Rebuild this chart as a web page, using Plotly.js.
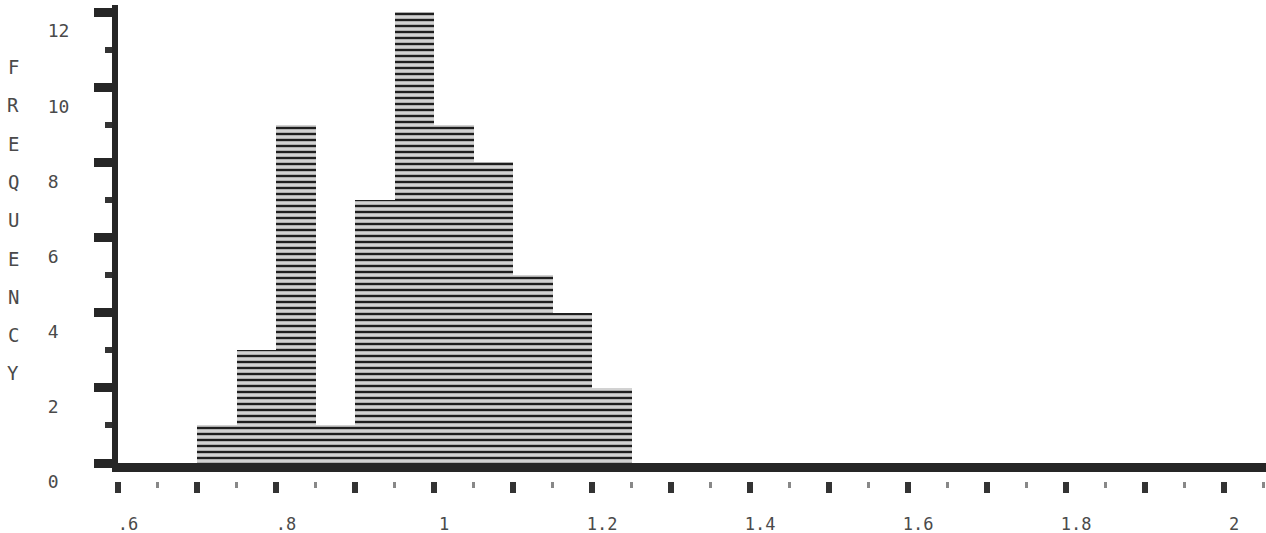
<!DOCTYPE html>
<html>
<head>
<meta charset="utf-8">
<script src="https://cdn.plot.ly/plotly-3.0.1.min.js"></script>
<style>html,body{margin:0;padding:0;background:#fff;}#chart{width:1266px;height:533px;}</style>
</head>
<body>
<div id="chart"></div>
<script>
// Histogram bins (bin centres, width 0.05) and counts
var binCenters = [0.725, 0.775, 0.825, 0.875, 0.925, 0.975, 1.025, 1.075, 1.125, 1.175, 1.225];
var counts     = [1, 3, 9, 1, 7, 12, 9, 8, 5, 4, 2];
var binWidth = 0.05;

// Axis ticks
var xTickVals = [0.6, 0.7, 0.8, 0.9, 1.0, 1.1, 1.2, 1.3, 1.4, 1.5, 1.6, 1.7, 1.8, 1.9, 2.0];
var xTickText = ['.6', '', '.8', '', '1', '', '1.2', '', '1.4', '', '1.6', '', '1.8', '', '2'];
var yTickVals = [0, 2, 4, 6, 8, 10, 12];
var yTickText = ['0\u00a0', '2\u00a0', '4\u00a0', '6\u00a0', '8\u00a0', '10', '12'];
var yTitleLetters = ['F', 'R', 'E', 'Q', 'U', 'E', 'N', 'C', 'Y'];

var mono = 'DejaVu Sans Mono, Liberation Mono, monospace';
var W = 1266, H = 533, mL = 118, mR = 0, mT = 5, mB = 52;
var paperH = H - mT - mB, paperW = W - mL - mR;

var bars = {
  type: 'bar',
  x: binCenters,
  y: counts,
  width: binWidth,
  xaxis: 'x', yaxis: 'y',
  marker: {
    color: '#cfcfcf',
    line: {width: 0},
    pattern: {shape: '-', fgcolor: '#1e1e1e', bgcolor: '#d2d2d2', size: 6, solidity: 0.4}
  },
  hoverinfo: 'x+y',
  showlegend: false
};
var tickCarrier = {type: 'scatter', x: [], y: [], xaxis: 'x2', yaxis: 'y', showlegend: false, hoverinfo: 'skip'};

var annotations = yTitleLetters.map(function (ch, i) {
  var py = 67 + i * 38.3;
  return {
    xref: 'paper', yref: 'paper',
    x: (13 - mL) / paperW, y: (H - mB - py) / paperH,
    xanchor: 'center', yanchor: 'middle',
    text: ch, showarrow: false,
    font: {family: mono, size: 19, color: '#4a4a4a'}
  };
});

var layout = {
  width: W, height: H,
  margin: {l: mL, r: mR, t: mT, b: mB, pad: 0},
  paper_bgcolor: '#ffffff', plot_bgcolor: '#ffffff',
  bargap: 0,
  showlegend: false,
  xaxis: {
    range: [0.6, 2.053], domain: [0, 1], anchor: 'y',
    showline: true, linewidth: 9, linecolor: '#262626',
    ticks: '', showticklabels: false, showgrid: false, zeroline: false
  },
  xaxis2: {
    matches: 'x', overlaying: 'x', anchor: 'free', position: 0, side: 'bottom',
    range: [0.6, 2.053],
    showline: false, showgrid: false, zeroline: false,
    tickmode: 'array', tickvals: xTickVals, ticktext: xTickText,
    ticks: 'outside', ticklen: 11, tickwidth: 6, tickcolor: '#333',
    minor: {dtick: 0.05, tick0: 0.6, ticks: 'outside', ticklen: 6, tickwidth: 3, tickcolor: '#888'},
    tickfont: {family: mono, size: 17, color: '#4a4a4a'},
    ticklabelshift: 10, ticklabelstandoff: 17
  },
  yaxis: {
    domain: [(H - mB - 463) / paperH, 1],
    range: [0, 12.19],
    showline: true, linewidth: 6, linecolor: '#262626',
    showgrid: false, zeroline: false,
    tickmode: 'array', tickvals: yTickVals, ticktext: yTickText,
    ticks: 'outside', ticklen: 18, tickwidth: 9, tickcolor: '#262626',
    minor: {dtick: 1, tick0: 0, ticks: 'outside', ticklen: 7, tickwidth: 6, tickcolor: '#333'},
    tickfont: {family: mono, size: 18, color: '#4a4a4a'},
    ticklabelshift: 19, ticklabelstandoff: 21
  },
  annotations: annotations
};

Plotly.newPlot('chart', [bars, tickCarrier], layout, {staticPlot: true, displayModeBar: false});
</script>
</body>
</html>
